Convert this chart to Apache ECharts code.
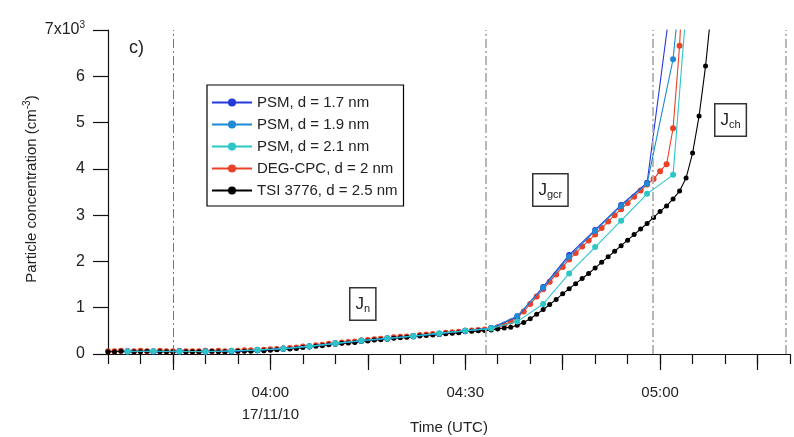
<!DOCTYPE html>
<html><head><meta charset="utf-8">
<script src="https://cdn.jsdelivr.net/npm/echarts@6/dist/echarts.min.js"></script>
<style>html,body{margin:0;padding:0;background:#fff}#c{width:794px;height:437px}</style>
</head><body><div id="c"></div>
<script>
// x values: minutes after 00:00 UTC on 17/11/10; y values: 10^3 cm^-3
const xMin = 215;   // 03:35
const xMax = 320;   // 05:20
const xTickLabels = {240: '04:00\n17/11/10', 270: '04:30', 300: '05:00'};
const majorTicks = [225, 240, 255, 270, 285, 300, 315];
const eventLines = [225, 273.2, 298.9, 319.3];

const seriesNames = ['PSM, d = 1.7 nm', 'PSM, d = 1.9 nm', 'PSM, d = 2.1 nm', 'DEG-CPC, d = 2 nm', 'TSI 3776, d = 2.5 nm'];
const seriesColors = ['#2438dc', '#1f8ad4', '#2cc6c8', '#ea4127', '#000000'];

// TSI 3776: one point per minute from 03:35
const tsiStart = 215;
const tsiValues = [
  0.05,0.05,0.06,0.05,0.05,0.05,0.06,0.05,0.05,0.05,0.05,0.06,0.05,0.05,0.05,0.05,0.06,0.05,0.05,0.06,0.06,
  0.06,0.06,0.07,0.07,0.08,0.09,0.10,0.11,0.12,0.14,0.15,0.17,0.18,0.20,0.21,0.23,0.24,0.25,0.27,0.28,
  0.30,0.31,0.32,0.34,0.35,0.36,0.37,0.39,0.40,0.41,0.42,0.44,0.45,0.46,0.48,0.49,0.50,0.51,
  0.52,0.54,0.56,0.58,0.62,0.68,0.76,0.86,0.96,
  1.07,1.18,1.30,1.41,1.52,1.63,1.74,1.86,1.98,2.10,2.22,2.34,2.46,2.58,2.70,2.82,2.95,3.08,3.20,3.35,
  3.52,3.80,4.34,5.14,6.22,7.60
];
// DEG-CPC: one point per minute from 03:35
const degStart = 215;
const degValues = [
  0.06,0.06,0.07,0.06,0.06,0.07,0.06,0.06,0.07,0.06,0.06,0.07,0.06,0.06,0.06,0.07,0.06,0.07,0.06,0.07,0.07,
  0.08,0.08,0.09,0.09,0.10,0.11,0.12,0.13,0.14,0.16,0.17,0.19,0.20,0.22,0.23,0.25,0.26,0.27,0.29,0.30,
  0.32,0.33,0.34,0.36,0.37,0.38,0.39,0.41,0.42,0.43,0.44,0.46,0.47,0.48,0.50,0.51,0.52,0.53,
  0.55,0.58,0.63,0.70,0.78,0.92,1.08,1.24,1.40,1.56,1.72,1.88,2.04,2.18,2.32,2.45,2.58,2.72,2.86,3.00,
  3.13,3.26,3.40,3.53,3.66,3.78,3.95,4.10,4.88,6.66,9.50
];
// PSM scans: one point per 4 minutes
const psmTimes = [218,222,226,230,234,238,242,246,250,254,258,262,266,270,274,278,282,286,290,294,298,302,306];
const psm17 = [0.06,0.05,0.06,0.05,0.06,0.08,0.12,0.17,0.23,0.29,0.34,0.39,0.44,0.50,0.56,0.80,1.45,2.14,2.68,3.22,3.70,8.0,14];
const psm19 = [0.05,0.06,0.05,0.06,0.06,0.08,0.11,0.16,0.22,0.28,0.33,0.38,0.44,0.50,0.56,0.82,1.43,2.10,2.66,3.20,3.68,6.37,12];
const psm21 = [0.06,0.06,0.06,0.05,0.07,0.09,0.12,0.17,0.23,0.29,0.34,0.39,0.45,0.50,0.55,0.70,1.08,1.74,2.31,2.88,3.46,3.87,11];

const FONT = "'Liberation Sans', Arial, sans-serif";
const TXT = '#222';

function everyMinute(start, vals) { return vals.map((v, i) => [start + i, v]); }
function paired(ts, vals) { return vals.map((v, i) => [ts[i], v]); }

function mkSeries(idx, data, size, z) {
  return {
    name: seriesNames[idx], type: 'line', data: data,
    symbol: 'circle', symbolSize: size, showSymbol: true,
    color: seriesColors[idx],
    lineStyle: {width: 1.1, color: seriesColors[idx]},
    itemStyle: {color: seriesColors[idx]},
    clip: true, animation: false, z: z
  };
}

const tsiSeries = mkSeries(4, everyMinute(tsiStart, tsiValues), 5, 3);
tsiSeries.markLine = {
  silent: true, symbol: ['none', 'none'], animation: false,
  label: {show: false},
  data: eventLines.map((v, i) => ({
    xAxis: v,
    lineStyle: {color: i === 0 ? '#777' : '#b0b0b0', width: i === 0 ? 1 : 1.8, type: [9, 3, 2, 3]}
  }))
};

const chart = echarts.init(document.getElementById('c'), null, {renderer: 'canvas'});
chart.setOption({
  backgroundColor: '#fff',
  textStyle: {fontFamily: FONT},
  animation: false,
  grid: {left: 108, right: 4, top: 30, bottom: 83, containLabel: false, outerBoundsMode: 'none'},
  legend: {
    orient: 'vertical', left: 207, top: 85,
    data: seriesNames,
    borderColor: '#000', borderWidth: 1.2,
    padding: [10, 6, 8, 4],
    itemWidth: 40, itemHeight: 10, itemGap: 7,
    textStyle: {fontFamily: FONT, fontSize: 15, color: TXT},
    selectedMode: false
  },
  xAxis: [{
    type: 'value', min: xMin, max: xMax, interval: 5,
    axisLine: {show: true, lineStyle: {color: '#111', width: 1.2}},
    axisTick: {show: true, length: 10, lineStyle: {color: '#111', width: 1.2}},
    axisLabel: {
      margin: 28, fontFamily: FONT, fontSize: 15, color: TXT, lineHeight: 22,
      showMinLabel: true, showMaxLabel: true,
      formatter: v => xTickLabels[v] || ''
    },
    splitLine: {show: false}
  }, {
    type: 'value', min: xMin, max: xMax, position: 'bottom',
    axisLine: {show: false},
    axisTick: {show: true, length: 16, customValues: majorTicks, lineStyle: {color: '#111', width: 1.2}},
    axisLabel: {show: false},
    splitLine: {show: false}
  }],
  yAxis: {
    type: 'value', min: 0, max: 7, interval: 1,
    axisLine: {show: true, lineStyle: {color: '#111', width: 1.2}},
    axisTick: {show: true, length: 15, lineStyle: {color: '#111', width: 1.2}},
    axisLabel: {
      margin: 23, fontFamily: FONT, fontSize: 16, color: TXT,
      formatter: v => v === 7 ? '7x10{sup|3}' : String(v),
      rich: {sup: {fontFamily: FONT, fontSize: 10, color: TXT, padding: [0, 0, 10, 0]}}
    },
    splitLine: {show: false}
  },
  series: [
    tsiSeries,
    mkSeries(3, everyMinute(degStart, degValues), 6, 2),
    mkSeries(0, paired(psmTimes, psm17), 6, 4),
    mkSeries(1, paired(psmTimes, psm19), 6, 5),
    mkSeries(2, paired(psmTimes, psm21), 6, 6)
  ],
  graphic: [
    {type: 'text', x: 449, y: 428, style: {text: 'Time (UTC)', font: '15px ' + FONT, fill: TXT, align: 'center', verticalAlign: 'middle'}},
    {type: 'text', x: 32, y: 189, rotation: Math.PI / 2, style: {
      text: 'Particle concentration (cm{sup|-3})', font: '15px ' + FONT, fill: TXT, align: 'center', verticalAlign: 'middle',
      rich: {sup: {font: '10px ' + FONT, fill: TXT, padding: [0, 0, 9, 0]}}}},
    {type: 'text', left: 129, top: 39, style: {text: 'c)', font: '18px ' + FONT, fill: TXT}},
    {type: 'text', left: 349, top: 287, style: {
      text: 'J{s|n}', font: '17px ' + FONT, fill: TXT,
      rich: {s: {font: '11px ' + FONT, fill: TXT, padding: [9, 0, 0, 0]}},
      backgroundColor: '#fff', borderColor: '#333', borderWidth: 1.5, padding: [6, 5, 5, 5]}},
    {type: 'text', left: 532, top: 173, style: {
      text: 'J{s|gcr}', font: '17px ' + FONT, fill: TXT,
      rich: {s: {font: '11px ' + FONT, fill: TXT, padding: [9, 0, 0, 0]}},
      backgroundColor: '#fff', borderColor: '#333', borderWidth: 1.5, padding: [6, 5, 5, 5]}},
    {type: 'text', left: 714, top: 103, style: {
      text: 'J{s|ch}', font: '17px ' + FONT, fill: TXT,
      rich: {s: {font: '11px ' + FONT, fill: TXT, padding: [9, 0, 0, 0]}},
      backgroundColor: '#fff', borderColor: '#333', borderWidth: 1.5, padding: [6, 5, 5, 5]}}
  ]
});
</script>
</body></html>
